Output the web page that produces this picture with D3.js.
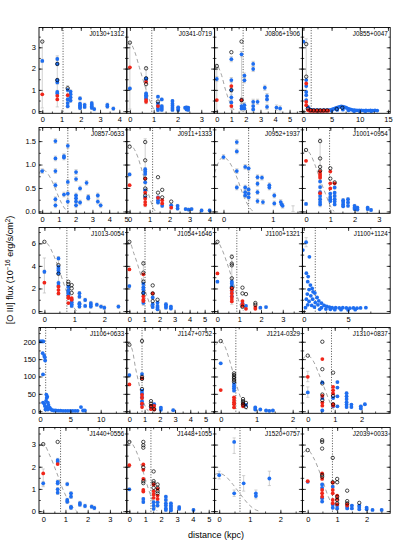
<!DOCTYPE html>
<html>
<head>
<meta charset="utf-8">
<script src="https://cdn.jsdelivr.net/npm/d3@7"></script>
<style>
  body { margin: 0; background: #fff; }
  text { font-family: "Liberation Sans", Arial, sans-serif; fill: #000; }
</style>
</head>
<body>
<svg id="chart" width="399" height="548"></svg>
<script>
// Globals.
var LEFT = 39, TOP = 27.5, PW = 87.8, PH = 85.8, ROW_STEP = 100;
var BLUE = '#1e6ef0', RED = '#f0261a', ERR = '#bdbdbd';

// Panel names, one per galaxy (row by row).
var panelNames = ['J0130+1312', 'J0341-0719', 'J0806+1906', 'J0855+0047',
                  'J0857-0633', 'J0911+1333', 'J0952+1937', 'J1001+0954',
                  'J1013-0054', 'J1054+1646', 'J1100+1321', 'J1100+1124',
                  'J1106+0633', 'J1147+0752', 'J1214-0329', 'J1310+0837',
                  'J1440+0556', 'J1448+1055', 'J1520+0757', 'J2039+0033'];

// x ranges (kpc) and labelled ticks for each panel.
var xDomains = [[-0.17, 4.39], [-0.13, 3.56], [-0.15, 5.88], [-0.18, 15.4],
                [-0.19, 5.05], [-0.14, 4.25], [-0.18, 1.6], [-0.15, 3.47],
                [-0.18, 2.75], [-0.17, 5.66], [-0.13, 3.9], [-0.15, 9.74],
                [-0.16, 14.3], [-0.17, 5.6], [-0.17, 2.27], [-0.2, 3.06],
                [-0.19, 3.76], [-0.16, 5.37], [-0.15, 2.72], [-0.18, 2.8]];
var xTicks = [[0, 1, 2, 3, 4], [0, 1, 2, 3], [0, 1, 2, 3, 4, 5], [0, 5, 10, 15],
              [0, 1, 2, 3, 4, 5], [0, 1, 2, 3, 4], [0, 1], [0, 1, 2, 3],
              [0, 1, 2], [0, 1, 2, 3, 4, 5], [0, 1, 2, 3], [0, 5],
              [0, 5, 10], [0, 1, 2, 3, 4, 5], [0, 1, 2], [0, 1, 2],
              [0, 1, 2, 3], [0, 1, 2, 3, 4, 5], [0, 1, 2], [0, 1, 2]];

// flux ranges and ticks, one per row
var rowYDomains = [[-0.1, 3.93], [-0.04, 1.79], [-0.2, 7.4], [-6, 241], [-0.1, 3.77]];
var rowYTicks = [[0, 1, 2, 3], [0, 0.5, 1, 1.5], [0, 2, 4, 6], [0, 50, 100, 150, 200], [0, 1, 2, 3]];
var rowYFormat = ['d', '.1f', 'd', 'd', 'd'];

// dotted line: resolution limit (kpc)
var psfLimit = [1.08, 0.92, 1.81, 1.38, 1.53, 1.15, 0.51, 0.97, 0.75, 1.04,
                0.89, 1.3, 0.94, 0.83, 0.42, 0.88, 0.78, 1.36, 0.68, 0.84];

// dashed PSF profile (null = none drawn)
var psfCurves = [
  null,
  [[-0.1, 3.1], [0, 3.2], [0.2, 2.8], [0.4, 2.05], [0.6, 1.3], [0.8, 0.6], [1.0, 0.12], [1.15, 0]],
  [[-0.15, 1.95], [0, 2.15], [0.3, 1.75], [0.6, 1.0], [0.9, 0.4], [1.2, 0.05], [1.35, 0]],
  null,
  [[-0.19, 0.8], [0, 0.9], [0.3, 0.82], [0.65, 0.6], [0.9, 0.38], [1.15, 0.18], [1.4, 0.04], [1.6, 0]],
  [[-0.1, 1.4], [0, 1.42], [0.2, 1.35], [0.42, 1.15], [0.6, 0.9], [0.8, 0.6], [1.0, 0.3], [1.2, 0.06], [1.3, 0]],
  [[-0.18, 0.82], [-0.1, 1.05], [0, 1.16], [0.1, 1.08], [0.25, 0.78], [0.42, 0.3], [0.55, 0.05], [0.62, 0]],
  [[-0.1, 1.25], [0, 1.31], [0.2, 1.2], [0.4, 0.95], [0.6, 0.65], [0.8, 0.38], [1.0, 0.12], [1.15, 0]],
  [[-0.1, 5.9], [0, 6.13], [0.15, 5.8], [0.3, 5.0], [0.5, 3.6], [0.65, 2.4], [0.8, 1.3], [0.95, 0.45], [1.08, 0]],
  [[-0.15, 5.9], [0, 6.13], [0.3, 5.1], [0.6, 3.9], [0.9, 2.5], [1.2, 1.2], [1.4, 0.5], [1.6, 0]],
  [[-0.1, 5.9], [0, 6.13], [0.2, 5.5], [0.45, 4.2], [0.65, 3.0], [0.85, 1.7], [1.05, 0.5], [1.2, 0]],
  null,
  null,
  [[-0.15, 185], [0, 191], [0.2, 175], [0.4, 125], [0.6, 85], [0.8, 45], [1.0, 18], [1.25, 0]],
  [[-0.15, 190], [0, 202], [0.1, 190], [0.25, 145], [0.4, 90], [0.55, 40], [0.7, 8], [0.78, 0]],
  [[-0.2, 150], [0, 160], [0.2, 145], [0.4, 110], [0.6, 70], [0.8, 30], [0.95, 5], [1.0, 0]],
  [[-0.1, 2.95], [0, 3.02], [0.3, 2.5], [0.6, 1.75], [0.9, 0.95], [1.2, 0.35], [1.5, 0]],
  [[-0.1, 3.1], [0, 3.15], [0.3, 2.9], [0.6, 2.4], [0.9, 1.7], [1.2, 1.0], [1.5, 0.4], [1.75, 0]],
  [[-0.15, 1.65], [0, 1.7], [0.2, 1.58], [0.45, 1.2], [0.7, 0.75], [0.95, 0.32], [1.2, 0.05], [1.3, 0]],
  [[-0.15, 2.65], [0, 2.75], [0.2, 2.4], [0.45, 1.6], [0.7, 0.65], [0.9, 0.15], [1.0, 0]]
];

// blue points [distance, flux]
var bluePoints = [
  [[0, 2.36], [0.78, 2.45], [0.78, 2.22], [0.78, 1.46], [0.78, 1.35], [0.78, 0.9], [0.78, 0.83], [1.32, 1.0], [1.32, 0.55], [1.32, 0.38], [1.32, 0.23], [1.47, 0.92], [1.47, 0.8], [1.47, 0.65], [1.47, 0.5], [1.96, 0.6], [1.96, 0.35], [1.96, 0.27], [1.96, 0.2], [1.96, 0.15], [2.2, 0.3], [2.2, 0.2], [2.57, 0.38], [2.57, 0.3], [2.57, 0.22], [2.57, 0.16], [2.7, 0.1], [3.38, 0.3], [3.38, 0.22], [3.69, 0.12]],
  [[0, 1.07], [0.68, 1.54], [0.68, 1.46], [0.68, 0.83], [0.68, 0.75], [0.68, 0.68], [0.68, 0.6], [1.18, 0.68], [1.18, 0.36], [1.18, 0.25], [1.18, 0.13], [1.18, 0.05], [1.34, 0.55], [1.34, 0.24], [1.34, 0.15], [1.34, 0.06], [1.79, 0.48], [1.79, 0.35], [1.79, 0.25], [1.79, 0.15], [1.79, 0.06], [2.03, 0.18], [2.03, 0.1], [2.03, 0.05], [2.32, 0.16], [2.38, 0.18], [2.45, 0.16], [2.38, 0.08], [2.45, 0.06]],
  [[0, 1.51], [1.0, 2.44], [1.0, 1.46], [1.0, 0.99], [1.0, 0.65], [1.0, 0.41], [1.7, 2.67], [1.7, 0.52], [1.7, 0.24], [1.7, 0.13], [1.9, 1.67], [1.9, 1.45], [1.9, 0.28], [1.9, 0.13], [2.5, 2.22], [2.5, 1.98], [2.5, 0.44], [2.5, 0.24], [2.5, 0.08], [2.8, 0.44], [3.3, 1.1], [3.45, 0.71], [3.45, 0.55], [3.45, 0.2], [4.1, 0.17], [4.35, 0.13]],
  [[0, 3.27], [0.5, 1.46], [0.5, 1.18], [0.5, 0.9], [0.5, 0.75], [0.5, 0.52], [0.8, 0.2], [1.1, 0.1], [1.4, 0.06], [1.7, 0.04], [2, 0.05], [2.3, 0.03], [2.6, 0.05], [3, 0.04], [3.3, 0.03], [3.6, 0.05], [4, 0.04], [4.4, 0.05], [4.8, 0.06], [5.2, 0.09], [5.5, 0.12], [5.8, 0.15], [6.1, 0.18], [6.4, 0.2], [6.7, 0.22], [7, 0.21], [7.3, 0.19], [7.6, 0.16], [7.9, 0.12], [8.2, 0.09], [8.5, 0.07], [8.8, 0.05], [9.1, 0.05], [9.5, 0.04], [9.9, 0.04], [10.3, 0.04], [10.7, 0.03], [11.1, 0.04], [11.5, 0.03], [11.9, 0.04], [12.3, 0.03], [12.7, 0.04], [13.1, 0.03], [5, 0.02], [6, 0.06], [7, 0.07], [8, 0.04], [9, 0.0], [10, 0.0], [11, 0.0], [12, 0.0]],
  [[0, 0.86], [0.79, 1.5], [0.79, 1.13], [0.79, 0.86], [0.79, 0.56], [0.79, 0.26], [0.79, 0.13], [1.3, 1.18], [1.3, 1.15], [1.3, 0.36], [1.53, 1.4], [1.53, 0.63], [1.53, 0.38], [1.53, 0.21], [2.02, 0.84], [2.02, 0.69], [2.02, 0.34], [2.02, 0.28], [2.02, 0.21], [2.02, 0.13], [2.26, 0.49], [2.26, 0.19], [2.65, 0.61], [2.75, 0.31], [2.75, 0.28], [3.32, 0.34], [3.32, 0.21], [3.49, 0.13]],
  [[0, 0.79], [0.78, 0.9], [0.78, 0.85], [0.78, 0.8], [0.78, 0.62], [0.78, 0.45], [0.78, 0.3], [1.42, 0.3], [1.42, 0.24], [1.42, 0.19], [1.63, 0.12], [2.08, 0.13], [2.4, 0.12], [2.4, 0.06], [2.8, 0.05], [2.95, 0.04], [3.1, 0.05], [3.6, 0.02], [4.0, 0.02]],
  [[0, 1.16], [0.27, 1.48], [0.27, 1.28], [0.27, 0.86], [0.27, 0.51], [0.44, 0.95], [0.44, 0.51], [0.44, 0.41], [0.44, 0.34], [0.51, 0.92], [0.51, 0.47], [0.51, 0.38], [0.51, 0.3], [0.69, 0.73], [0.69, 0.59], [0.69, 0.41], [0.69, 0.22], [0.78, 0.72], [0.8, 0.2], [0.93, 0.51], [0.93, 0.56], [1.03, 0.34], [1.03, 0.17], [1.16, 0.2], [1.18, 0.15], [1.2, 0.12]],
  [[0, 0.16], [0.58, 0.64], [0.58, 0.52], [0.58, 0.41], [0.58, 0.33], [0.58, 0.26], [0.58, 0.2], [0.58, 0.15], [1.0, 0.38], [1.0, 0.31], [1.0, 0.26], [1.0, 0.22], [1.18, 0.51], [1.18, 0.4], [1.18, 0.33], [1.18, 0.26], [1.18, 0.21], [1.18, 0.15], [1.53, 0.24], [1.53, 0.2], [1.53, 0.15], [1.53, 0.11], [1.73, 0.26], [1.73, 0.19], [1.73, 0.12], [2.0, 0.12], [2.0, 0.08], [2.0, 0.05], [2.12, 0.08], [2.12, 0.04], [2.54, 0.08], [2.54, 0.05], [2.68, 0.03]],
  [[0, 3.48], [0.47, 4.66], [0.47, 3.9], [0.47, 3.75], [0.47, 3.6], [0.47, 3.35], [0.47, 2.5], [0.47, 2.25], [0.8, 2.15], [0.8, 1.86], [0.8, 1.7], [0.8, 1.56], [0.8, 1.4], [0.91, 1.0], [0.91, 0.78], [0.91, 0.6], [0.91, 0.45], [1.17, 1.58], [1.17, 1.27], [1.17, 0.7], [1.17, 0.6], [1.17, 0.4], [1.36, 0.98], [1.36, 0.45], [1.55, 0.71], [1.55, 0.55], [1.55, 0.4], [1.75, 0.56], [1.89, 0.4], [2.0, 0.3], [2.47, 0.4]],
  [[0, 2.21], [0.93, 2.4], [0.93, 2.1], [0.93, 1.9], [0.93, 1.6], [0.93, 0.72], [1.55, 1.2], [1.55, 0.6], [1.55, 0.35], [1.87, 0.75], [1.87, 0.45], [1.87, 0.3], [1.87, 0.15], [2.43, 0.6], [2.43, 0.45], [2.43, 0.3], [2.76, 0.4], [2.76, 0.22]],
  [[0, 2.6], [0.66, 2.6], [0.66, 2.45], [0.66, 2.2], [0.66, 1.68], [0.66, 1.3], [1.15, 0.7], [1.31, 0.45], [1.97, 0.3], [2.23, 0.35]],
  [[-0.1, 5.4], [0.27, 6.1], [0.64, 4.8], [0.3, 3.35], [0.5, 3.05], [0.45, 2.6], [0.75, 2.3], [0.95, 2.0], [0.6, 1.9], [1.05, 1.7], [0.4, 1.5], [1.25, 1.6], [0.8, 1.35], [1.5, 1.2], [0.3, 1.05], [1.0, 1.05], [1.7, 0.9], [0.6, 0.85], [1.3, 0.75], [2.0, 0.7], [0.45, 0.55], [0.9, 0.5], [1.6, 0.55], [2.3, 0.5], [2.6, 0.42], [1.2, 0.35], [2.0, 0.3], [2.9, 0.35], [3.2, 0.3], [3.6, 0.3], [4.0, 0.28], [4.4, 0.3], [4.8, 0.28], [5.2, 0.25], [5.6, 0.28], [6.0, 0.25], [6.4, 0.28], [7.0, 0.3], [1.8, 0.15], [2.5, 0.18], [3.0, 0.15], [3.5, 0.12], [4.2, 0.12], [5.0, 0.1], [5.8, 0.12], [0.2, 0.3]],
  [[0, 201], [0.2, 201], [0.4, 201], [0.55, 201], [0.45, 167], [0.7, 160], [0.8, 155], [0.85, 146], [0.5, 106], [1.05, 48], [1.2, 42], [1.1, 38], [0.5, 25], [0.7, 22], [1.0, 30], [1.3, 25], [0.8, 15], [1.1, 12], [1.4, 18], [1.6, 10], [1.3, 5], [0.9, 5], [1.8, 6], [2.0, 3], [2.3, 2], [2.6, 2], [3.0, 1.5], [3.4, 1.5], [3.8, 1.2], [4.2, 1], [4.6, 1], [5.0, 1], [5.4, 1], [5.8, 1], [6.2, 1], [6.75, 12], [7.1, 2], [7.4, 2]],
  [[0, 104], [0.83, 107], [0.83, 59], [0.83, 51], [0.83, 40], [0.83, 29], [0.83, 20], [1.42, 10], [1.63, 20], [2.07, 10], [2.07, 4], [2.88, 3]],
  [[0, 138], [0.37, 78], [0.37, 72], [0.37, 66], [0.37, 59], [0.7, 18], [0.96, 11], [0.96, 5], [1.1, 5], [1.26, 2], [1.35, 1], [1.45, 2]],
  [[0, 54], [0.54, 83], [0.54, 38], [0.54, 2], [0.94, 38], [0.94, 14], [1.1, 84], [1.1, 68], [1.1, 43], [1.1, 14], [1.44, 52], [1.44, 43], [1.44, 35], [1.44, 26], [1.44, 19], [1.44, 12], [1.62, 19], [1.62, 12], [1.97, 14], [1.97, 8], [2.12, 20]],
  [[0, 1.25], [0.65, 2.3], [0.65, 2.22], [0.65, 1.32], [0.65, 1.25], [0.65, 0.98], [0.65, 0.83], [1.08, 1.22], [1.08, 0.5], [1.08, 0.42], [1.25, 0.8], [1.25, 0.65], [1.25, 0.19], [1.25, 0.15], [1.65, 0.36], [1.65, 0.29], [1.88, 0.23], [2.18, 0.2], [2.3, 0.14]],
  [[0, 0.98], [0.88, 0.55], [0.88, 0.41], [1.53, 0.4], [1.53, 0.25], [1.53, 0.1], [1.78, 0.4], [1.78, 0.25], [2.3, 0.65], [2.3, 0.5], [2.3, 0.35], [2.3, 0.25], [2.3, 0.12], [2.3, 0.05], [2.62, 0.35], [2.62, 0.25], [2.62, 0.18], [2.62, 0.1], [2.62, 0.03], [3.14, 0.18], [3.14, 0.1], [4.04, 0.05]],
  [[0, 1.62], [0.49, 3.12], [0.49, 0.8], [0.8, 1.25], [1.2, 0.8], [1.2, 0.68], [1.64, 1.47]],
  [[0, 1.32], [0.49, 1.2], [0.49, 1.05], [0.49, 0.58], [0.49, 0.43], [0.85, 1.1], [0.85, 0.3], [0.85, 0.15], [1.0, 0.25], [1.0, 0.12], [1.34, 0.2], [1.34, 0.12], [1.5, 0.25], [1.5, 0.12], [1.75, 0.25], [1.75, 0.18], [1.75, 0.08], [2.0, 0.15], [2.0, 0.08], [2.2, 0.05], [2.51, 0.05]]
];

// red points [distance, flux]
var redPoints = [
  [[0, 0.79], [0.78, 0.72], [0.78, 0.55], [1.32, 0.75]],
  [[0, 2.06], [0.68, 1.38], [0.68, 0.52], [0.68, 0.44], [1.18, 0.24]],
  [[0, 0.52], [1.0, 1.18], [1.0, 0.24], [1.7, 0.52]],
  [[0.5, 1.3], [0.5, 0.44], [0.5, 0.28], [0.8, 0.05], [1.1, 0.02], [1.4, 0.02], [1.7, 0.02], [2, 0.02], [2.3, 0.02], [2.6, 0.02], [3, 0.02], [3.3, 0.02], [3.6, 0.02], [4, 0.02], [4.4, 0.02]],
  [],
  [[0, 0.56], [0.78, 0.7], [0.78, 0.4], [0.78, 0.27], [0.78, 0.2], [0.78, 0.14], [1.42, 0.29], [1.63, 0.24], [1.63, 0.17], [2.08, 0.08]],
  [],
  [[0, 1.08], [0.58, 0.85], [0.58, 0.8], [0.58, 0.76], [0.58, 0.72], [0.58, 0.39], [1.0, 0.85], [1.0, 0.6], [1.0, 0.49], [1.18, 0.6]],
  [[0, 2.51], [0.47, 2.15], [0.47, 1.86], [0.47, 1.56], [0.8, 1.27], [0.8, 1.15], [0.8, 0.71], [0.91, 1.15], [0.91, 1.0]],
  [[0, 3.69], [0.93, 3.25], [0.93, 1.3], [0.93, 1.0], [0.93, 0.88], [1.55, 1.56]],
  [[0, 3.33], [0.66, 2.0], [0.66, 1.85], [0.66, 1.56], [0.66, 1.27], [0.66, 1.06], [0.66, 0.85], [1.15, 0.88], [1.15, 0.6], [1.15, 0.45], [1.31, 0.2], [1.74, 0.35], [1.74, 0.2]],
  [],
  [],
  [[0, 77], [0.83, 95], [0.83, 47], [0.83, 38], [0.83, 22], [0.83, 12], [1.42, 16], [1.42, 6], [1.63, 15], [1.63, 5]],
  [[0, 61], [0.37, 40], [0.37, 33], [0.37, 26], [0.37, 20], [0.37, 11], [0.62, 20], [0.62, 14]],
  [[0, 99], [0.54, 150], [0.54, 44], [0.54, 25], [0.54, 16], [0.94, 70], [0.94, 60], [0.94, 51], [0.94, 20], [0.94, 16]],
  [[0, 1.7], [0.65, 2.12]],
  [[0, 2.07], [0.88, 2.1], [0.88, 1.86], [0.88, 1.45], [0.88, 0.95], [0.88, 0.88], [1.53, 1.2], [1.53, 0.9], [1.53, 0.75], [1.53, 0.6], [1.78, 1.0], [1.78, 0.7], [1.78, 0.55]],
  [],
  [[0, 1.35], [0.49, 1.7], [0.49, 1.45], [0.49, 0.95], [0.49, 0.8], [0.49, 0.65], [0.85, 1.28], [0.85, 0.95], [0.85, 0.8], [0.85, 0.5], [0.85, 0.35], [1.0, 0.7], [1.0, 0.55], [1.0, 0.3], [1.34, 0.3], [1.34, 0.25]]
];

// open black circles [distance, flux]
var openPoints = [
  [[0, 3.27], [0.78, 2.22], [0.78, 1.46], [1.32, 1.08]],
  [[0, 3.22], [0.68, 2.01], [0.68, 1.54], [0.68, 1.27], [1.18, 0.45]],
  [[0, 2.12], [1.0, 2.77], [1.0, 0.99], [1.7, 3.27], [1.7, 0.52]],
  [[0.5, 3.15], [0.5, 1.62], [0.8, 0.13], [1.3, 0.05], [1.8, 0.04], [2.4, 0.04], [3, 0.04], [3.6, 0.04], [4.2, 0.04], [5.9, 0.1], [6.9, 0.16]],
  [],
  [[0, 1.38], [0.78, 1.48], [0.78, 1.09], [0.78, 0.7], [0.78, 0.49], [0.78, 0.34], [1.42, 0.73], [1.42, 0.4], [1.63, 0.46], [1.63, 0.3], [2.08, 0.21]],
  [],
  [[0, 1.31], [0.58, 1.5], [0.58, 1.13], [0.58, 0.95], [0.58, 0.87], [1.0, 0.92], [1.0, 0.7], [1.18, 0.62]],
  [[0, 6.13], [0.47, 4.07], [0.47, 3.3], [0.8, 2.59], [0.8, 2.38], [0.91, 2.3], [0.91, 2.0], [0.91, 1.6]],
  [[0, 6.13], [0.93, 4.22], [0.93, 3.4], [0.93, 2.6], [0.93, 1.6], [1.55, 2.27], [1.55, 1.56], [1.55, 0.88], [1.87, 1.0]],
  [[0, 6.13], [0.66, 4.8], [0.66, 4.2], [0.66, 4.05], [0.66, 2.9], [0.66, 2.05], [1.15, 2.07], [1.15, 1.56], [1.15, 0.37], [1.31, 1.5], [1.74, 0.71], [1.74, 0.55]],
  [],
  [],
  [[0, 191], [0.83, 202], [0.83, 99], [0.83, 93], [0.83, 64], [1.42, 29], [1.42, 22], [1.42, 14], [1.63, 6]],
  [[0, 202], [0.37, 109], [0.37, 104], [0.37, 99], [0.37, 95], [0.37, 90], [0.37, 85], [0.62, 35], [0.62, 29], [0.62, 24], [0.62, 19], [0.7, 24], [0.7, 12]],
  [[0, 160], [0.54, 200], [0.54, 121], [0.54, 80], [0.54, 48], [0.54, 32], [0.94, 111], [0.94, 44], [0.94, 20]],
  [[0, 3.02], [0.65, 3.12]],
  [[0, 3.12], [0.88, 3.12], [0.88, 2.97], [0.88, 2.86], [0.88, 1.97], [0.88, 1.35], [0.88, 1.26], [1.53, 1.79], [1.53, 1.35], [1.53, 1.26], [1.53, 1.05], [1.78, 1.2], [1.78, 1.05], [1.78, 0.9], [1.78, 0.8]],
  [],
  [[0, 2.75], [0.49, 3.2], [0.49, 3.12], [0.49, 2.82], [0.49, 1.63], [0.49, 1.55], [0.85, 2.4], [0.85, 1.3], [1.0, 1.45], [1.0, 1.3], [1.0, 0.65], [1.0, 0.5], [1.0, 0.35], [1.34, 0.92], [1.34, 0.45], [1.34, 0.35], [1.75, 0.37]]
];

// big error bars [distance, low, high]
var errorBars = [
  [[0, 0.15, 3.3], [0.78, 0.2, 2.6], [1.32, 0.2, 1.2]],
  [[0, 0.1, 3.25], [0.68, 0.35, 2.1]],
  [[0, 0.0, 2.2], [1.0, 0.1, 1.4], [1.7, 0.05, 2.8]],
  [[0.5, 0.1, 3.4]],
  [],
  [[0.78, 0.1, 1.55]],
  [[1.41, 0.0, 0.12]],
  [[0.58, 0.1, 1.55]],
  [[0, 1.6, 4.7], [0.47, 1.4, 4.8]],
  [[0.93, 0.5, 4.4]],
  [[0.66, 0.6, 5.0]],
  [[0.27, 5.7, 6.5]],
  [],
  [],
  [],
  [[0, 85, 115], [0, 40, 70]],
  [[0, 1.1, 1.9]],
  [],
  [[0, 1.45, 1.8], [0.49, 2.6, 3.3], [0.49, 0.66, 0.95], [0.8, 0.9, 1.6], [1.2, 0.55, 0.95], [1.64, 1.15, 1.8]],
  []
];

// half length of the small error bar on each blue point
var blueErr = [0.08, 0.06, 0.12, 0, 0.05, 0.03, 0.05, 0.03, 0.15, 0.12, 0.1, 0,
               0, 3, 3, 3, 0.08, 0.06, 0, 0.05];

var svg = d3.select('#chart');

var drawPanel = function(i) {
  var col = i % 4, row = Math.floor(i / 4);
  var x0 = LEFT + col * PW, y0 = TOP + row * ROW_STEP;
  var x = d3.scaleLinear().domain(xDomains[i]).range([x0, x0 + PW]);
  var y = d3.scaleLinear().domain(rowYDomains[row]).range([y0 + PH, y0]);
  var g = svg.append('g');

  g.append('clipPath').attr('id', 'clip' + i)
    .append('rect').attr('x', x0).attr('y', y0).attr('width', PW).attr('height', PH);
  var plot = g.append('g').attr('clip-path', 'url(#clip' + i + ')');

  // dashed PSF profile
  if (psfCurves[i]) {
    plot.append('path')
      .datum(psfCurves[i])
      .attr('d', d3.line()
        .x(function(d) { return x(d[0]); })
        .y(function(d) { return y(d[1]); })
        .curve(d3.curveMonotoneX))
      .attr('fill', 'none')
      .attr('stroke', '#8c8c8c')
      .attr('stroke-width', 0.8)
      .attr('stroke-dasharray', '4,3');
  }

  // dotted resolution line
  plot.append('line')
    .attr('x1', x(psfLimit[i])).attr('x2', x(psfLimit[i]))
    .attr('y1', y0).attr('y2', y0 + PH)
    .attr('stroke', '#222').attr('stroke-width', 0.8)
    .attr('stroke-dasharray', '1,1.6');

  // error bars
  var bars = errorBars[i].slice();
  if (blueErr[i] > 0) {
    bluePoints[i].forEach(function(d) { bars.push([d[0], d[1] - blueErr[i], d[1] + blueErr[i]]); });
  }
  var eb = plot.selectAll('g.err').data(bars).enter().append('g')
    .attr('stroke', ERR).attr('stroke-width', 0.7);
  eb.append('line')
    .attr('x1', function(d) { return x(d[0]); }).attr('x2', function(d) { return x(d[0]); })
    .attr('y1', function(d) { return y(d[1]); }).attr('y2', function(d) { return y(d[2]); });
  eb.append('line')
    .attr('x1', function(d) { return x(d[0]) - 1.6; }).attr('x2', function(d) { return x(d[0]) + 1.6; })
    .attr('y1', function(d) { return y(d[1]); }).attr('y2', function(d) { return y(d[1]); });
  eb.append('line')
    .attr('x1', function(d) { return x(d[0]) - 1.6; }).attr('x2', function(d) { return x(d[0]) + 1.6; })
    .attr('y1', function(d) { return y(d[2]); }).attr('y2', function(d) { return y(d[2]); });

  // points
  plot.selectAll('circle.blue').data(bluePoints[i]).enter().append('circle')
    .attr('cx', function(d) { return x(d[0]); })
    .attr('cy', function(d) { return y(d[1]); })
    .attr('r', 1.9).attr('fill', BLUE);
  plot.selectAll('circle.red').data(redPoints[i]).enter().append('circle')
    .attr('cx', function(d) { return x(d[0]); })
    .attr('cy', function(d) { return y(d[1]); })
    .attr('r', 1.9).attr('fill', RED);
  plot.selectAll('circle.open').data(openPoints[i]).enter().append('circle')
    .attr('cx', function(d) { return x(d[0]); })
    .attr('cy', function(d) { return y(d[1]); })
    .attr('r', 1.7).attr('fill', 'none')
    .attr('stroke', '#000').attr('stroke-width', 0.7);

  // axes, ticks pointing inward on all four sides
  var xt = xTicks[i], step = xt[1] - xt[0];
  var xMinor = d3.range(xt[0], xDomains[i][1], step / 2);
  var yt = rowYTicks[row], ystep = yt[1] - yt[0];
  var yMinor = d3.range(yt[0], rowYDomains[row][1], ystep / 2);

  var axes = [
    [d3.axisBottom(x).tickValues(xt).tickSize(-3.5).tickPadding(3).tickFormat(d3.format('d')), 'translate(0,' + (y0 + PH) + ')'],
    [d3.axisBottom(x).tickValues(xMinor).tickSize(-1.8).tickFormat(''), 'translate(0,' + (y0 + PH) + ')'],
    [d3.axisTop(x).tickValues(xt).tickSize(-3.5).tickFormat(''), 'translate(0,' + y0 + ')'],
    [d3.axisTop(x).tickValues(xMinor).tickSize(-1.8).tickFormat(''), 'translate(0,' + y0 + ')'],
    [d3.axisLeft(y).tickValues(yt).tickSize(-3.5).tickPadding(3)
      .tickFormat(col === 0 ? d3.format(rowYFormat[row]) : ''), 'translate(' + x0 + ',0)'],
    [d3.axisLeft(y).tickValues(yMinor).tickSize(-1.8).tickFormat(''), 'translate(' + x0 + ',0)'],
    [d3.axisRight(y).tickValues(yt).tickSize(-3.5).tickFormat(''), 'translate(' + (x0 + PW) + ',0)'],
    [d3.axisRight(y).tickValues(yMinor).tickSize(-1.8).tickFormat(''), 'translate(' + (x0 + PW) + ',0)']
  ];
  axes.forEach(function(a) {
    var ag = g.append('g').attr('transform', a[1]).call(a[0]);
    ag.select('.domain').remove();
    ag.selectAll('line').attr('stroke', '#000').attr('stroke-width', 0.7);
    ag.selectAll('text').attr('font-size', 7.5)
      .attr('font-family', '"Liberation Sans", Arial, sans-serif').attr('fill', '#000');
  });

  // frame
  g.append('rect')
    .attr('x', x0).attr('y', y0).attr('width', PW).attr('height', PH)
    .attr('fill', 'none').attr('stroke', '#000').attr('stroke-width', 0.9);

  // panel name
  g.append('text')
    .attr('x', x0 + PW - 2.5).attr('y', y0 + 8)
    .attr('text-anchor', 'end')
    .attr('font-size', 6.3)
    .text(panelNames[i]);
};

panelNames.forEach(function(name, i) { drawPanel(i); });

// axis titles
svg.append('text')
  .attr('x', 216).attr('y', 538)
  .attr('text-anchor', 'middle')
  .attr('font-size', 9)
  .text('distance (kpc)');

var yTitle = svg.append('text')
  .attr('transform', 'translate(13,270) rotate(-90)')
  .attr('text-anchor', 'middle')
  .attr('font-size', 9);
yTitle.append('tspan').text('[O III] flux (10');
yTitle.append('tspan').attr('dy', -3).attr('font-size', 6.5).text('\u221216');
yTitle.append('tspan').attr('dy', 3).text(' erg/s/cm');
yTitle.append('tspan').attr('dy', -3).attr('font-size', 6.5).text('2');
yTitle.append('tspan').attr('dy', 3).text(')');
</script>
</body>
</html>
